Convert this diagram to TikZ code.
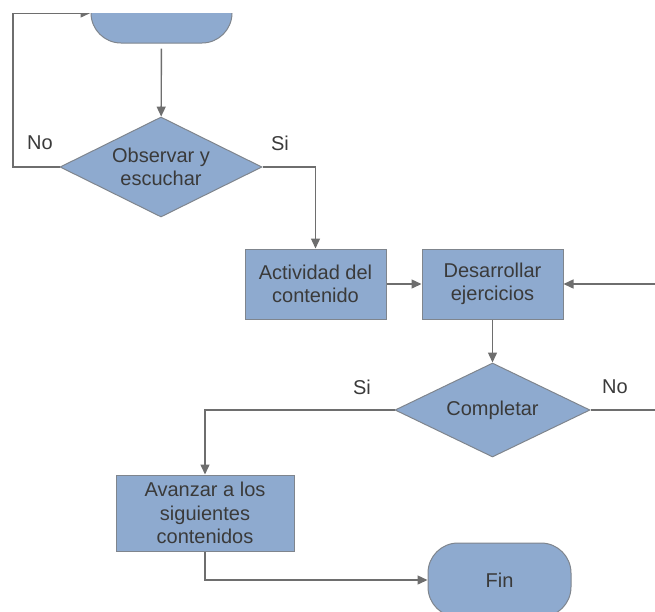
\documentclass[tikz,border=0pt]{standalone}
\usepackage{fontspec}
\setmainfont{Liberation Sans}
\usepackage{xcolor}
\usetikzlibrary{shapes.geometric,arrows.meta,positioning,calc}

\definecolor{relleno}{HTML}{8EAACF}
\definecolor{borde}{HTML}{7F858D}
\definecolor{linea}{HTML}{6E6E6E}
\definecolor{texto}{HTML}{3A3A3A}

\begin{document}
\begin{tikzpicture}[x=1pt, y=-1pt,
  every node/.style={font=\fontsize{20}{23.5}\selectfont, text=texto, align=center},
  caja/.style={rectangle, draw=borde, fill=relleno, line width=1pt, inner sep=0pt},
  decision/.style={diamond, draw=borde, fill=relleno, line width=1pt, inner sep=0pt, aspect=2},
  terminal/.style={rectangle, rounded corners=30pt, draw=borde, fill=relleno, line width=1pt, inner sep=0pt},
  flecha/.style={draw=linea, line width=1.4pt, -{Triangle[length=10pt,width=9pt]}},
  conector/.style={draw=linea, line width=1.4pt}]
\useasboundingbox (0,0) rectangle (655,611);
\clip (0,13) rectangle (655,611);

\node[terminal, minimum width=141pt, minimum height=60pt] (inicio) at (161.5,13) {};
\node[decision, minimum width=202pt, minimum height=100pt] (obs) at (161,167) {Observar y\\escuchar};
\node[caja, minimum width=141pt, minimum height=70pt] (act) at (315.5,284) {Actividad del\\contenido};
\node[caja, minimum width=141pt, minimum height=70pt] (des) at (492.5,284) {Desarrollar\\ejercicios};
\node[decision, minimum width=195pt, minimum height=94pt] (comp) at (492.5,410) {Completar};
\node[caja, minimum width=178pt, minimum height=76pt] (ava) at (205,513) {Avanzar a los\\siguientes\\contenidos};
\node[terminal, minimum width=143pt, minimum height=74pt] (fin) at (499.5,580) {Fin};

\node (no1) at (40,143) {No};
\node (si1) at (280,143) {Si};
\node (si2) at (362,387) {Si};
\node (no2) at (615,387) {No};

\coordinate (izq) at (13,167);
\coordinate (der) at (655,284);
\coordinate (der2) at (655,410);

\draw[flecha, shorten <=5pt] (inicio) -- (obs);
\draw[flecha] (obs.west) -- (izq) |- (inicio.west);
\draw[flecha] (obs.east) -| (act.north);
\draw[flecha] (act) -- (des);
\draw[flecha] (der) -- (des.east);
\draw[flecha] (des) -- (comp);
\draw[conector] (comp.east) -- (der2);
\draw[flecha] (comp.west) -| (ava.north);
\draw[flecha] (ava.south) |- (fin.west);
\end{tikzpicture}
\end{document}
